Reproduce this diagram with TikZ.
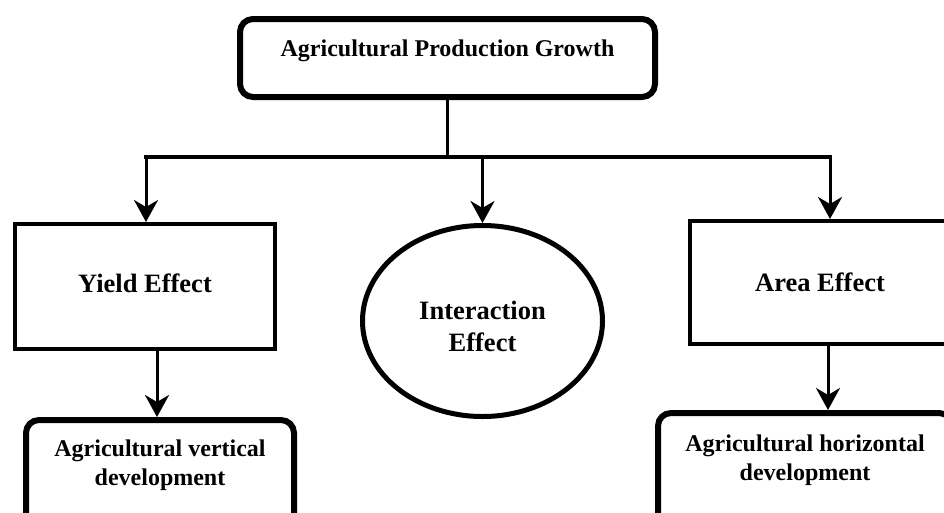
\documentclass[tikz,border=0pt]{standalone}
\usepackage{fontspec}
\setmainfont{Liberation Serif}
\usetikzlibrary{arrows.meta,shapes.geometric}

\begin{document}
\begin{tikzpicture}[x=1pt, y=-1pt,
	every node/.style={align=center, inner sep=0pt},
	effect/.style={draw, line width=4pt, font=\fontsize{26.5}{32}\bfseries\selectfont},
	dev/.style={draw, rounded corners=13pt, line width=6pt, font=\fontsize{24}{29}\bfseries\selectfont},
	bar/.style={line width=4pt, line cap=rect},
	link/.style={line width=3pt, -{Stealth[length=22pt, width=24pt, inset=7pt]}}]
	\useasboundingbox (0,0) rectangle (944,512);
	
	\node[dev, minimum width=415pt, text height=37pt, text depth=41pt] (top) at (447.5,58) {Agricultural Production Growth};
	
	\node[effect, minimum width=260pt, text height=68pt, text depth=57pt] (yield) at (145,286.5) {Yield Effect};
	\node[effect, ellipse, line width=5pt, minimum width=240pt, minimum height=191pt, text height=60pt, text depth=0pt] (inter) at (482.5,321) {Interaction\\Effect};
	\node[effect, minimum width=260pt, text height=70pt, text depth=53pt] (area) at (820,282.5) {Area Effect};
	
	\node[dev, minimum width=268pt, text height=65pt, text depth=45pt] (vert) at (160,475) {Agricultural vertical\\development};
	\node[dev, minimum width=294pt, text height=67pt, text depth=50pt] (horiz) at (805,471.5) {Agricultural horizontal\\development};
	
	\coordinate (fork) at (447.5,157);
	\coordinate (hl) at (146,157);
	\coordinate (hr) at (830,157);
	
	\draw[line width=3pt] (top.south) -- (fork);
	\draw[bar] (hl) -- (hr);
	\draw[link] (hl) -- (hl |- yield.north);
	\draw[link] (inter.north |- fork) -- (inter.north);
	\draw[link] (hr) -- (hr |- area.north);
	\draw[link] ([xshift=-3pt]vert.north |- yield.south) -- ([xshift=-3pt]vert.north);
	\draw[link] ([xshift=-2pt]hr |- area.south) -- ([xshift=-2pt]hr |- horiz.north);
\end{tikzpicture}
\end{document}
